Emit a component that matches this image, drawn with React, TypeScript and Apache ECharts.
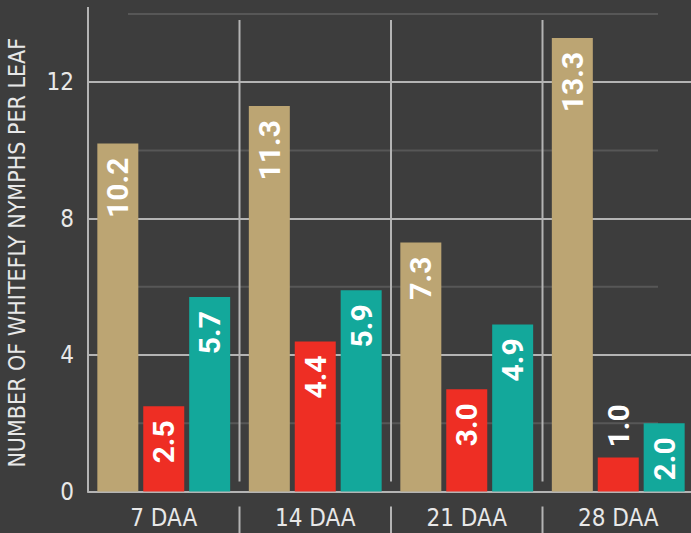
import React, { useEffect, useRef } from "react";
import * as echarts from "echarts";

const categories = ["7 DAA", "14 DAA", "21 DAA", "28 DAA"];
const seriesTan = [10.2, 11.3, 7.3, 13.3];
const seriesRed = [2.5, 4.4, 3.0, 1.0];
const seriesTeal = [5.7, 5.9, 4.9, 2.0];
const minorTicks = [2, 6, 10, 14];
const yTitle = "NUMBER OF WHITEFLY NYMPHS PER LEAF";

const BG = "#3d3d3d";
const MAJOR = "#b4b4b4";
const MINOR = "#575757";
const NARROW = "'Liberation Sans Narrow', 'DejaVu Sans Condensed', 'Roboto', sans-serif";
const BOLD = "Roboto, 'Liberation Sans', sans-serif";

function barLabel(outsideIdx: number[]) {
  return (vals: number[]) =>
    vals.map((v, i) =>
      outsideIdx.includes(i)
        ? { value: v, label: { position: "top", align: "left", verticalAlign: "middle", distance: 10 } }
        : { value: v }
    );
}

export default function App() {
  const ref = useRef<HTMLDivElement>(null);
  useEffect(() => {
    if (!ref.current) return;
    const chart = echarts.init(ref.current, null, { renderer: "svg" });
    const label = {
      show: true,
      position: "insideTop",
      rotate: 90,
      align: "right",
      verticalAlign: "middle",
      distance: 14,
      color: "#ffffff",
      fontFamily: BOLD,
      fontWeight: "bold",
      fontSize: 30,
      formatter: (p: any) => Number(p.value).toFixed(1),
    };
    const splitColors: string[] = [];
    for (let v = 0; v <= 14; v += 2) splitColors.push(v % 4 === 0 ? MAJOR : "rgba(0,0,0,0)");
    chart.setOption({
      animation: false,
      backgroundColor: BG,
      grid: { left: 88, right: -3, top: 14, bottom: 41.5, outerBoundsMode: "none", containLabel: false },
      xAxis: {
        type: "category",
        data: categories,
        axisLine: { show: true, lineStyle: { color: MAJOR, width: 2 } },
        axisTick: { show: false },
        splitLine: { show: false },
        axisLabel: { color: "#e8e8e8", fontSize: 24, fontFamily: NARROW, margin: 14 },
      },
      yAxis: {
        type: "value",
        min: 0,
        max: 14,
        interval: 2,
        name: yTitle,
        nameLocation: "middle",
        nameGap: 60,
        nameTextStyle: { color: "#e8e8e8", fontSize: 23, fontFamily: NARROW },
        axisLine: { show: true, lineStyle: { color: MAJOR, width: 2 } },
        axisTick: { show: false },
        axisLabel: {
          color: "#e8e8e8",
          fontSize: 24,
          fontFamily: NARROW,
          margin: 14,
          formatter: (v: number) => (v % 4 === 0 ? String(v) : ""),
        },
        splitLine: { show: true, lineStyle: { color: splitColors, width: 2 } },
      },
      series: [
        { type: "bar", data: seriesTan, barWidth: 41, barGap: "12%", itemStyle: { color: "#bca573" }, label },
        { type: "bar", data: barLabel([3])(seriesRed), barWidth: 41, barGap: "12%", itemStyle: { color: "#ee2e24" }, label },
        { type: "bar", data: seriesTeal, barWidth: 41, barGap: "12%", itemStyle: { color: "#13a89b" }, label },
      ],
    });

    const centers = categories.map((_, i) => chart.convertToPixel({ xAxisIndex: 0 }, i) as number);
    const yTop = chart.convertToPixel({ yAxisIndex: 0 }, 14) as number;
    const yZero = chart.convertToPixel({ yAxisIndex: 0 }, 0) as number;
    const xLeft = chart.convertToPixel({ xAxisIndex: 0 }, 0) as number;
    const graphics: any[] = [];
    minorTicks.forEach((v) => {
      const y = chart.convertToPixel({ yAxisIndex: 0 }, v) as number;
      graphics.push({
        type: "line",
        z: 0,
        shape: { x1: 128, y1: y, x2: 658, y2: y },
        style: { stroke: MINOR, lineWidth: 2 },
      });
    });
    const step = centers[1] - centers[0];
    const axisX = xLeft - step / 2;
    graphics.push({
      type: "line",
      z: 0,
      shape: { x1: axisX, y1: 7, x2: axisX, y2: yTop },
      style: { stroke: MAJOR, lineWidth: 2 },
    });
    for (let i = 1; i < centers.length; i++) {
      const x = (centers[i - 1] + centers[i]) / 2;
      graphics.push({
        type: "line",
        z: 0,
        shape: { x1: x, y1: yTop + 6, x2: x, y2: yZero - 10 },
        style: { stroke: MAJOR, lineWidth: 2 },
      });
      graphics.push({
        type: "line",
        z: 0,
        shape: { x1: x, y1: yZero + 15, x2: x, y2: 533 },
        style: { stroke: MAJOR, lineWidth: 2 },
      });
    }
    chart.setOption({ graphic: graphics });
    return () => chart.dispose();
  }, []);
  return <div ref={ref} style={{ position: "fixed", left: 0, top: 0, width: 691, height: 533 }} />;
}
